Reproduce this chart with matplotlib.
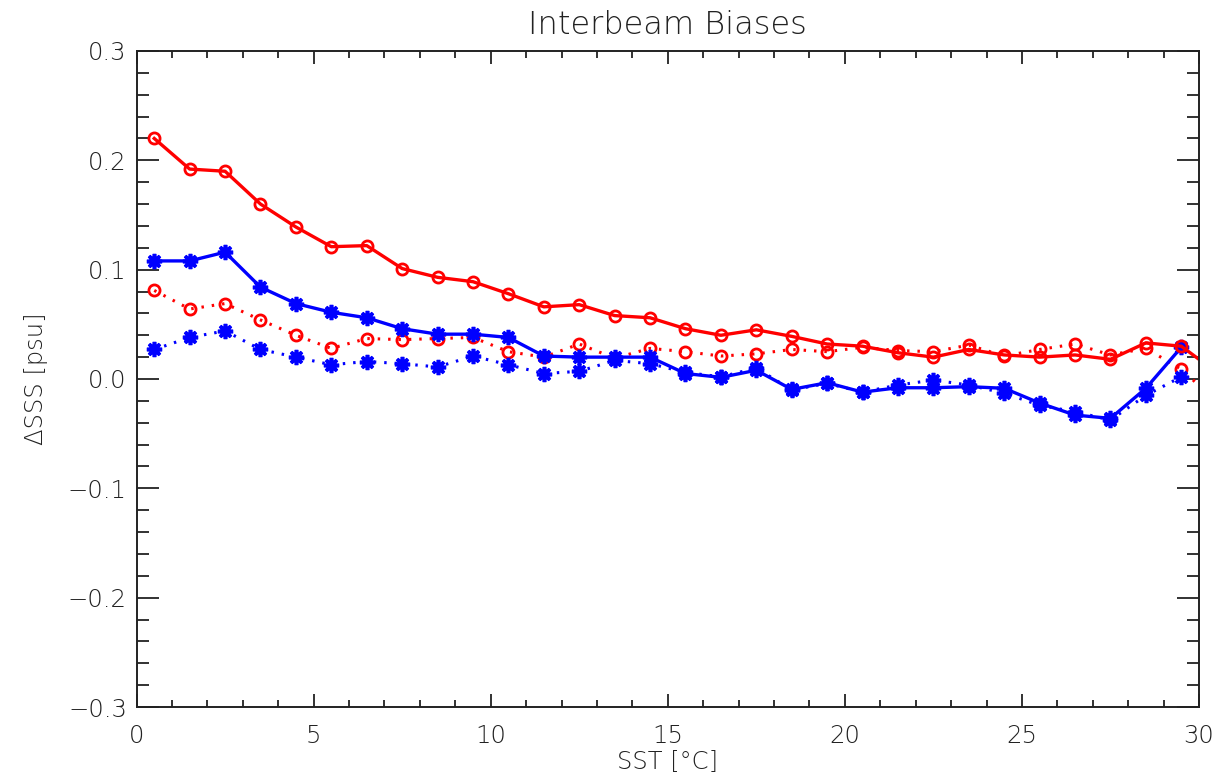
import numpy as np
import matplotlib
matplotlib.use("Agg")
import matplotlib.pyplot as plt
from matplotlib.ticker import MultipleLocator

# SST bin centres (deg C); red series carry one extra bin past the axis edge
sst = np.arange(0.5, 30.0, 1.0)
sst_ext = np.arange(0.5, 31.0, 1.0)

red_solid = [0.220, 0.192, 0.190, 0.160, 0.139, 0.121, 0.122, 0.101, 0.093, 0.089,
             0.078, 0.066, 0.068, 0.058, 0.056, 0.046, 0.040, 0.045, 0.039, 0.032,
             0.030, 0.024, 0.020, 0.027, 0.022, 0.020, 0.022, 0.018, 0.033, 0.030,
             0.006]
red_dotted = [0.081, 0.064, 0.069, 0.054, 0.040, 0.028, 0.037, 0.036, 0.037, 0.038,
              0.025, 0.020, 0.032, 0.019, 0.028, 0.025, 0.021, 0.023, 0.027, 0.025,
              0.029, 0.026, 0.025, 0.031, 0.021, 0.027, 0.032, 0.022, 0.028, 0.009,
              -0.021]
blue_solid = [0.108, 0.108, 0.116, 0.084, 0.069, 0.061, 0.056, 0.046, 0.041, 0.041,
              0.038, 0.021, 0.020, 0.020, 0.020, 0.005, 0.0015, 0.008, -0.0095, -0.0034,
              -0.012, -0.008, -0.008, -0.007, -0.0085, -0.022, -0.033, -0.036, -0.0085, 0.029]
blue_dotted = [0.027, 0.038, 0.044, 0.027, 0.020, 0.013, 0.016, 0.014, 0.011, 0.021,
               0.013, 0.005, 0.007, 0.017, 0.014, 0.006, 0.002, 0.010, -0.010, -0.004,
               -0.012, -0.0055, -0.001, -0.0055, -0.013, -0.024, -0.030, -0.0375, -0.015, 0.002]

RED = '#ff0000'
BLUE = '#0000ff'
AX_COL = '#222222'

plt.rcParams['font.family'] = ['DejaVu Sans']
plt.rcParams['font.weight'] = 'light'
plt.rcParams['axes.titleweight'] = 'light'
plt.rcParams['axes.labelweight'] = 'light'

fig = plt.figure(figsize=(12.17, 7.82), dpi=100)
ax = fig.add_axes([0.1122, 0.0959, 0.8730, 0.8389])

dot = (0, (0.8, 2.6))
asterisk = (8, 2, 0)

ax.plot(sst_ext, red_dotted, color=RED, ls=dot, lw=2.2, marker='o', ms=8,
        mfc='none', mec=RED, mew=2.0)
ax.plot(sst, blue_dotted, color=BLUE, ls=dot, lw=2.2, marker=asterisk, ms=11,
        mec=BLUE, mew=2.6)
ax.plot(sst, blue_solid, color=BLUE, ls='-', lw=2.4, marker=asterisk, ms=11,
        mec=BLUE, mew=2.6)
ax.plot(sst_ext, red_solid, color=RED, ls='-', lw=2.4, marker='o', ms=8,
        mfc='none', mec=RED, mew=2.0)

ax.set_xlim(0, 30)
ax.set_ylim(-0.3, 0.3)
ax.xaxis.set_major_locator(MultipleLocator(5))
ax.xaxis.set_minor_locator(MultipleLocator(1))
ax.yaxis.set_major_locator(MultipleLocator(0.1))
ax.yaxis.set_minor_locator(MultipleLocator(0.02))
ax.yaxis.set_major_formatter(plt.FuncFormatter(lambda v, p: f"{v:.1f}".replace('-', '\u2212')))

ax.tick_params(axis='both', which='both', direction='in', top=True, right=True,
               color=AX_COL, labelcolor=AX_COL, labelsize=17.5)
ax.tick_params(axis='x', which='major', length=9.4, width=1.3, pad=12)
ax.tick_params(axis='x', which='minor', length=5.0, width=1.3)
ax.tick_params(axis='y', which='major', length=15.5, width=1.3, pad=7)
ax.tick_params(axis='y', which='minor', length=8.3, width=1.3)
for sp in ax.spines.values():
    sp.set_color(AX_COL)
    sp.set_linewidth(1.4)

ax.set_title('Interbeam Biases', fontsize=23, color=AX_COL, pad=12)
ax.set_xlabel('SST [\u00b0C]', fontsize=17.5, color=AX_COL, labelpad=2)
ax.set_ylabel('\u0394SSS [psu]', fontsize=17.5, color=AX_COL, labelpad=14)

fig.savefig('out.png', dpi=100)
